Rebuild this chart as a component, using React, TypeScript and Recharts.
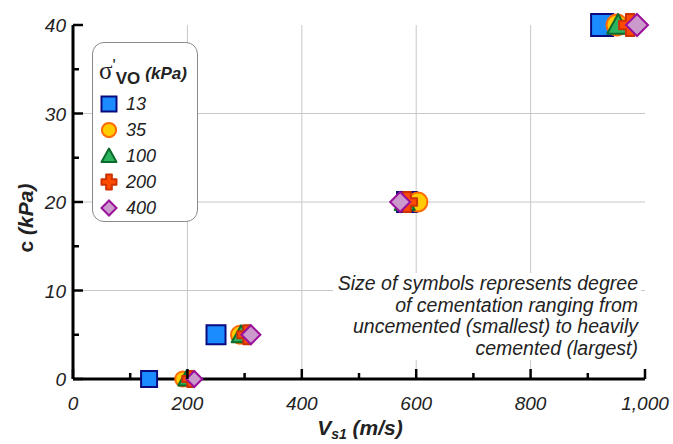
import React from "react";
import {
  ScatterChart,
  Scatter,
  XAxis,
  YAxis,
  CartesianGrid,
  Legend,
} from "recharts";

// cohesion for each cementation level (uncemented -> heavily cemented)
const cohesion = [0, 5, 20, 40];
const stressLevels = ["13", "35", "100", "200", "400"];

// Vs1 (m/s) per vertical stress, same order as cohesion
const vs13 = [133, 250, 584, 925];
const vs35 = [192, 292, 603, 951];
const vs100 = [198, 294, 580, 953];
const vs200 = [205, 304, 584, 974];
const vs400 = [212, 311, 572, 986];
const vsBySeries = [vs13, vs35, vs100, vs200, vs400];

const xTicks = [0, 100, 200, 300, 400, 500, 600, 700, 800, 900, 1000];
const yTicks = [0, 5, 10, 15, 20, 25, 30, 35, 40];
const xGrid = [200, 400, 600, 800];
const yGrid = [10, 20, 30];

const FONT = "'Liberation Sans', Arial, sans-serif";
const halfSize = [8, 9.5, 10, 11];

const markers = [
  { kind: "square", fill: "#1a8cff", stroke: "#0a0a80" },
  { kind: "circle", fill: "#ffcc00", stroke: "#ff6a00" },
  { kind: "triangle", fill: "#2db35d", stroke: "#0a6b2c" },
  { kind: "cross", fill: "#ff4a00", stroke: "#cc3300" },
  { kind: "diamond", fill: "#cc99cc", stroke: "#9b109b" },
];

const Marker = ({ kind, cx, cy, h, fill, stroke }: any) => {
  const sw = 2;
  if (kind === "square")
    return <rect x={cx - h} y={cy - h} width={2 * h} height={2 * h} fill={fill} stroke={stroke} strokeWidth={sw} />;
  if (kind === "circle")
    return <circle cx={cx} cy={cy} r={h * 0.95} fill={fill} stroke={stroke} strokeWidth={sw} />;
  if (kind === "triangle") {
    const pts = `${cx},${cy - h} ${cx + h},${cy + h * 0.8} ${cx - h},${cy + h * 0.8}`;
    return <polygon points={pts} fill={fill} stroke={stroke} strokeWidth={sw} strokeLinejoin="round" />;
  }
  if (kind === "cross") {
    const a = h * 0.38;
    const pts = [
      [cx - a, cy - h], [cx + a, cy - h], [cx + a, cy - a], [cx + h, cy - a],
      [cx + h, cy + a], [cx + a, cy + a], [cx + a, cy + h], [cx - a, cy + h],
      [cx - a, cy + a], [cx - h, cy + a], [cx - h, cy - a], [cx - a, cy - a],
    ].map((p) => p.join(",")).join(" ");
    return <polygon points={pts} fill={fill} stroke={stroke} strokeWidth={sw} strokeLinejoin="round" />;
  }
  const pts = `${cx},${cy - h} ${cx + h},${cy} ${cx},${cy + h} ${cx - h},${cy}`;
  return <polygon points={pts} fill={fill} stroke={stroke} strokeWidth={sw} />;
};

const series = stressLevels.map((name, s) => ({
  name,
  data: vsBySeries[s].map((vs, i) => ({ vs, c: cohesion[i], level: i })),
}));

const tickText = { fontFamily: FONT, fontSize: 19, fontStyle: "italic", fill: "#222" };

const BottomTick = ({ x, y, payload }: any) => {
  const major = payload.value % 200 === 0;
  return (
    <g>
      <line x1={x} x2={x} y1={y} y2={y - (major ? 10 : 6)} stroke="#000" strokeWidth={2.5} />
      {major && (
        <text x={x} y={y + 31} textAnchor="middle" {...tickText}>
          {payload.value.toLocaleString("en-US")}
        </text>
      )}
    </g>
  );
};

const TopTick = ({ x, y, payload }: any) => {
  const major = payload.value % 200 === 0;
  return <line x1={x} x2={x} y1={y} y2={y + (major ? 10 : 6)} stroke="#000" strokeWidth={2.5} />;
};

const LeftTick = ({ x, y, payload }: any) => {
  const major = payload.value % 10 === 0;
  return (
    <g>
      <line x1={x} x2={x + (major ? 10 : 6)} y1={y} y2={y} stroke="#000" strokeWidth={2.5} />
      {major && (
        <text x={x - 7} y={y + 7} textAnchor="end" {...tickText}>
          {payload.value}
        </text>
      )}
    </g>
  );
};

const RightTick = ({ x, y, payload }: any) => {
  const major = payload.value % 10 === 0;
  return <line x1={x} x2={x - (major ? 10 : 6)} y1={y} y2={y} stroke="#000" strokeWidth={2.5} />;
};

const XTitle = () => (
  <text x={360} y={435} textAnchor="middle" fontFamily={FONT} fontWeight="bold" fontStyle="italic" fontSize={21} fill="#222">
    V
    <tspan fontSize={14} dy={4}>s1</tspan>
    <tspan dy={-4}> (m/s)</tspan>
  </text>
);

const YTitle = () => (
  <text
    x={0}
    y={0}
    transform="translate(33,218) rotate(-90)"
    textAnchor="middle"
    fontFamily={FONT}
    fontWeight="bold"
    fontSize={21}
    fill="#222"
  >
    c <tspan fontStyle="italic">(kPa)</tspan>
  </text>
);

const LegendBox = () => (
  <div
    style={{
      width: 106,
      height: 180,
      boxSizing: "border-box",
      border: "1.5px solid #8a8a8a",
      borderRadius: 12,
      background: "#fff",
      fontFamily: FONT,
      color: "#222",
      paddingLeft: 6,
    }}
  >
    <div style={{ height: 48, display: "flex", alignItems: "baseline", whiteSpace: "nowrap", paddingTop: 14, boxSizing: "border-box" }}>
      <span style={{ fontSize: 25, fontFamily: "'Liberation Serif', serif" }}>σ</span>
      <span style={{ fontSize: 17, position: "relative", top: -8 }}>'</span>
      <span style={{ fontSize: 17, fontWeight: "bold", position: "relative", top: 5 }}>VO</span>
      <span style={{ fontSize: 17, fontWeight: "bold", fontStyle: "italic", marginLeft: 5 }}>(kPa)</span>
    </div>
    {series.map((s, i) => (
      <div key={s.name} style={{ height: 26, display: "flex", alignItems: "center" }}>
        <svg width={18} height={18} style={{ marginLeft: 1 }}>
          <Marker {...markers[i]} cx={9} cy={9} h={7.5} />
        </svg>
        <span style={{ fontSize: 18, fontStyle: "italic", marginLeft: 8 }}>{s.name}</span>
      </div>
    ))}
  </div>
);

export default function App() {
  return (
    <div style={{ position: "absolute", left: 0, top: 0, width: 673, height: 444, background: "#fff" }}>
      <ScatterChart width={673} height={444} margin={{ top: 25, right: 28, bottom: 0, left: 0 }}>
        <CartesianGrid
          stroke="#c8c8c8"
          strokeWidth={1}
          verticalValues={xGrid}
          horizontalValues={yGrid}
        />
        <XAxis
          dataKey="vs"
          type="number"
          domain={[0, 1000]}
          ticks={xTicks}
          interval={0}
          height={65}
          tickSize={0}
          tickMargin={0}
          tickLine={false}
          tick={<BottomTick />}
          axisLine={{ stroke: "#000", strokeWidth: 3 }}
          label={<XTitle />}
        />
        <XAxis
          xAxisId="top"
          orientation="top"
          type="number"
          domain={[0, 1000]}
          ticks={xTicks}
          interval={0}
          height={0}
          tickSize={0}
          tickMargin={0}
          tickLine={false}
          tick={<TopTick />}
          axisLine={{ stroke: "#000", strokeWidth: 3 }}
        />
        <YAxis
          dataKey="c"
          type="number"
          domain={[0, 40]}
          ticks={yTicks}
          interval={0}
          width={73}
          tickSize={0}
          tickMargin={0}
          tickLine={false}
          tick={<LeftTick />}
          axisLine={{ stroke: "#000", strokeWidth: 3 }}
          label={<YTitle />}
        />
        <YAxis
          yAxisId="right"
          orientation="right"
          type="number"
          domain={[0, 40]}
          ticks={yTicks}
          interval={0}
          width={0}
          tickSize={0}
          tickMargin={0}
          tickLine={false}
          tick={<RightTick />}
          axisLine={{ stroke: "#000", strokeWidth: 3 }}
        />
        <Legend
          layout="vertical"
          align="center"
          verticalAlign="middle"
          content={<LegendBox />}
          wrapperStyle={{ position: "absolute", left: 92, top: 42, width: "auto", height: "auto" }}
        />
        {series.map((s, i) => (
          <Scatter
            key={s.name}
            name={s.name}
            data={s.data}
            isAnimationActive={false}
            shape={(p: any) => (
              <Marker {...markers[i]} cx={p.cx} cy={p.cy} h={halfSize[p.payload.level]} />
            )}
          />
        ))}
      </ScatterChart>
      <div
        style={{
          position: "absolute",
          left: 333,
          top: 273,
          width: 308,
          background: "#fff",
          textAlign: "right",
          fontFamily: FONT,
          fontStyle: "italic",
          fontSize: 19.5,
          lineHeight: "21.7px",
          color: "#222",
          paddingRight: 3,
          boxSizing: "border-box",
          whiteSpace: "nowrap",
        }}
      >
        Size of symbols represents degree
        <br />
        of cementation ranging from
        <br />
        uncemented (smallest) to heavily
        <br />
        cemented (largest)
      </div>
    </div>
  );
}
